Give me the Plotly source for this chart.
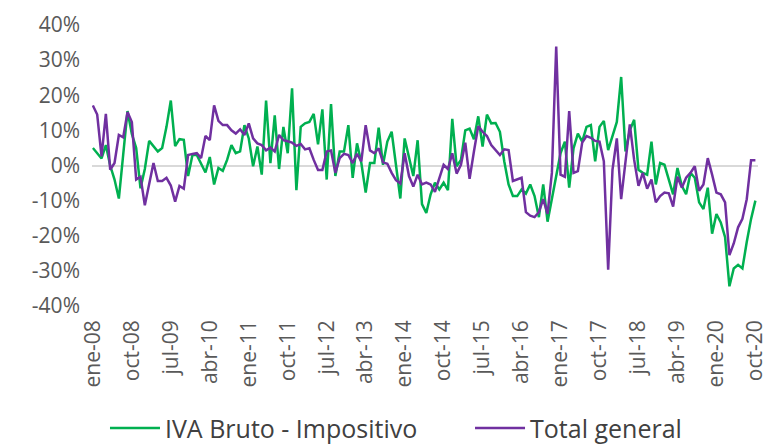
import plotly.graph_objects as go

meses = ["ene", "feb", "mar", "abr", "may", "jun", "jul", "ago", "sep", "oct", "nov", "dic"]
fechas = [f"{meses[m]}-{str(a)[2:]}" for a in range(2008, 2021) for m in range(12)][:154]

iva_bruto = [
    5, 3.5, 2, 5.8, 0, -4, -9.4, 3, 15.5, 9, 5, -6.5, -1, 7, 5.5, 4, 5, 11, 18.5, 5.5, 7.5, 7.3,
    -3, 3, 3, 0.7, -2, 2.4, -5.4, -0.7, -1.5, 1.6, 5.8, 3.5, 4, 11.5, 7.7, -0.2, 5.4, -2.6, 18.5, 0.7, 14.3, -1,
    11, 3.5, 22, -7, 11, 12, 12.4, 14.7, 6, 16, -4, 17.5, -3, 4, 4, 11.5, -3.5, 6.3, 0.7, -7.7, 0.7, 0.7,
    10.8, 0.2, 6.8, 9.6, 0.7, -9.4, 7.7, 2.6, -3, 7.2, -11, -13.5, -8.2, -4.9, -6.8, -4.9, -7, 13.3, -0.2, 1.6, 10, 10.5,
    7.5, 14, 5.4, 14.5, 12, 12.1, 9.6, 1.2, -5.4, -8.7, -8.7, -6.8, -8, -5.4, -8.7, -14.7, -5.4, -16, -9.6, -4, 3.5, 6.8,
    -6.3, 4.9, 9.1, 6.8, 11, 11.5, 1.2, 11, 12.7, 4.4, 8.2, 12.4, 25.2, 4, 10, 13, -1.2, -2.1, -2.6, 6.8, -5.4, 0.7,
    0.2, -4, -8.2, -0.7, -5.8, -8.2, -2.1, -3.5, -10.5, -12.4, -6.3, -19.4, -13.8, -16.2, -20.4, -34.4, -29.3, -28.3,
    -29.3, -21.8, -15.2, -10,
]

total_general = [
    17.1, 14.5, 2.6, 14.7, -1.2, 0.7, 8.7, 8, 15.2, 12.4, -4, -3.2, -11.3, -5.4, 0.7, -4.4, -4.4, -3.5, -5.7, -10.3, -5.8, -6.6,
    3, 3.3, 3.5, 2.1, 8.4, 7.2, 17.1, 12.7, 11.5, 11.5, 10, 9.1, 10.3, 8.7, 12, 7.7, 6.3, 5.8, 4.3, 5.1, 4, 8.7,
    7.2, 6.9, 6.5, 5.6, 6.1, 4.6, 4.9, 1.6, -1.3, -1.3, 4, 4.3, -2.1, 2.1, 3.3, 3, 0.7, 3.3, 1.2, 11.5, 4.3, 3.5,
    4.9, 0.9, 0.5, -2.1, -4.2, -5.1, 3.5, -3, -6, -2.6, -5.4, -4.9, -5.4, -7.5, -3.5, 0.2, -1, 3.5, -2.3, 0.2, 6.5, -3.8,
    4, 11.2, 9.6, 8.4, 5.8, 4.4, 3, 4.6, 4.4, -4.4, -4, -3.5, -13.3, -14.3, -14.7, -13.3, -9.6, -13.8, -2.1, 33.9, -2.6, -3.2,
    15.5, -2.1, -1.6, 6.5, 8.4, 7.9, 7, 6.8, 1.2, -29.7, -1.2, 7.7, -9.6, 0.7, 11.7, 1.6, -5.8, -2.1, -6.6, -4, -10.5, -8.7,
    -7.7, -7.9, -11.7, -3.2, -6.3, -3.5, -2.1, -0.2, -7.2, -5.4, 2.1, -2.6, -7.7, -8.2, -10.5, -25.5, -22.2, -17.6,
    -15.2, -9.6, 1.5, 1.5,
]

tick_labels = fechas[::9]
y_ticks = [-40, -30, -20, -10, 0, 10, 20, 30, 40]
y_tick_text = [f"{v}%" for v in y_ticks]

idx = list(range(len(fechas)))

fig = go.Figure()
fig.add_trace(go.Scatter(x=idx, y=iva_bruto, mode="lines", name="IVA Bruto - Impositivo",
                         line=dict(color="#00B050", width=2.5), customdata=fechas, legend="legend",
                         hovertemplate="%{customdata}: %{y}%<extra></extra>"))
fig.add_trace(go.Scatter(x=idx, y=total_general, mode="lines", name="Total general",
                         line=dict(color="#7030A0", width=2.5), customdata=fechas, legend="legend2",
                         hovertemplate="%{customdata}: %{y}%<extra></extra>"))

leg_common = dict(orientation="h", xanchor="left", y=-0.435, yanchor="middle",
                  font=dict(size=25, color="#404040"), itemwidth=50, bgcolor="rgba(0,0,0,0)")

L, R, T, B = 84, 29, 17, 146
fig.update_layout(
    width=779, height=444,
    margin=dict(l=L, r=R, t=T, b=B, autoexpand=False),
    paper_bgcolor="white", plot_bgcolor="white",
    font=dict(family="Open Sans, sans-serif", color="#595959"),
    showlegend=True,
    legend=dict(x=0.0195, **leg_common),
    legend2=dict(x=0.5676, **leg_common),
)
fig.update_xaxes(
    range=[-0.2, 153.6], tickmode="array", tickvals=idx[::9], ticktext=tick_labels,
    tickangle=-90, tickfont=dict(size=21, color="#595959"), showgrid=False,
    zeroline=False, showline=False, ticks="", ticklabelstandoff=9, automargin=False,
    ticklabeloverflow="allow",
)
fig.update_yaxes(
    range=[-40, 40], tickmode="array", tickvals=y_ticks, ticktext=y_tick_text,
    tickfont=dict(size=21, color="#595959"), showgrid=False,
    zeroline=True, zerolinecolor="#D9D9D9", zerolinewidth=2, showline=False, ticks="",
    ticklabelstandoff=11, automargin=False, ticklabeloverflow="allow",
)

fig.write_html("out.html")
